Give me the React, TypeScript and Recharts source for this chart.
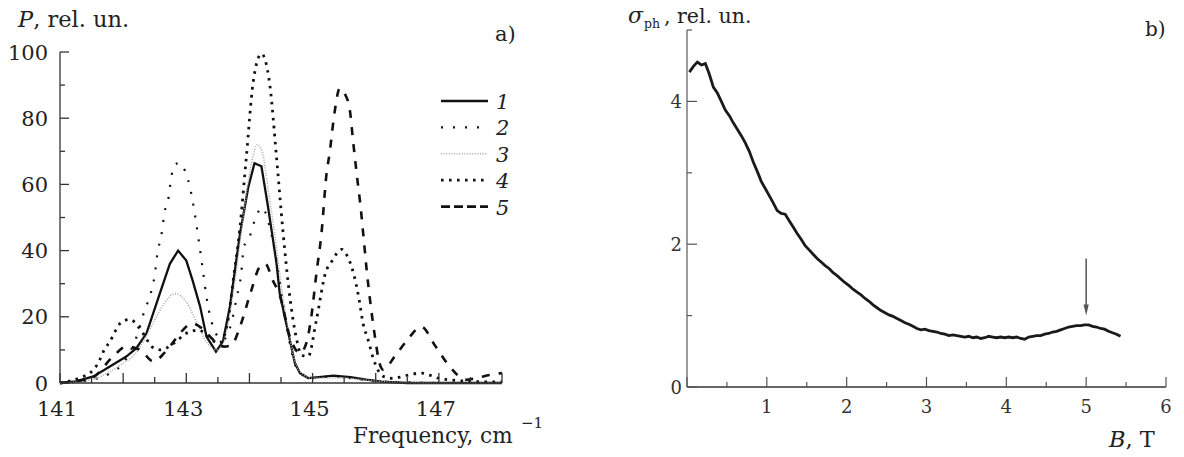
import React from 'react';
import { LineChart, Line, XAxis, YAxis, Legend, ReferenceLine, ReferenceDot } from 'recharts';

const FONT = '"DejaVu Serif", "Liberation Serif", serif';

// ---------- Panel a) data ----------
const f1 = [141, 141.25, 141.53, 141.79, 142.05, 142.21, 142.37, 142.58, 142.74, 142.87, 143.0, 143.1, 143.22, 143.32, 143.47, 143.58, 143.69, 143.85, 143.98, 144.08, 144.19, 144.28, 144.36, 144.43, 144.48, 144.56, 144.64, 144.72, 144.8, 144.93, 145.1, 145.33, 145.6, 145.85, 146.1, 146.5, 147, 147.5, 148];
const p1 = [0, 0.5, 2, 5, 8, 10.5, 15, 27, 36, 40, 37, 31, 23, 14, 9.5, 12.5, 23, 45, 59, 66.4, 65.5, 55, 45, 36, 27, 20, 13, 6, 3, 1.5, 1.8, 2.2, 1.8, 1, 0.4, 0, 0, 0, 0];

const f2 = [141, 141.5, 141.8, 142.0, 142.15, 142.25, 142.34, 142.42, 142.5, 142.55, 142.6, 142.66, 142.71, 142.77, 142.82, 142.9, 143.0, 143.06, 143.1, 143.16, 143.22, 143.27, 143.32, 143.4, 143.5, 143.58, 143.66, 143.72, 143.8, 143.87, 143.91, 144.0, 144.1, 144.2, 144.3, 144.4, 144.5, 144.6, 144.7, 144.8, 145.0, 145.3, 145.6, 146.0, 146.5, 147.0, 148];
const p2 = [0, 1, 3, 6, 11, 16, 22, 26, 32.6, 40, 44, 52, 55, 63, 66, 66.5, 63, 59, 55, 48, 40, 33, 26, 18.5, 14, 13, 15, 18.5, 26, 33, 41, 44, 50, 53, 48.7, 40, 28, 16, 7, 3, 1.5, 2, 1.5, 0.5, 0.2, 0, 0];

const f3 = [141, 141.5, 141.8, 142.0, 142.2, 142.35, 142.5, 142.65, 142.82, 143.0, 143.15, 143.3, 143.48, 143.6, 143.75, 143.9, 144.05, 144.12, 144.2, 144.3, 144.4, 144.5, 144.6, 144.7, 144.85, 145.0, 145.4, 145.8, 146.2, 147, 148];
const p3 = [0, 1, 3.5, 6, 9, 13.6, 19, 24, 27, 24.5, 19, 13, 10, 13, 28, 50, 68, 72, 70, 58, 45, 30, 18, 8, 2.5, 1.5, 1.5, 1, 0.3, 0, 0];

const f4 = [141, 141.3, 141.53, 141.63, 141.7, 141.79, 141.87, 141.98, 142.11, 142.24, 142.35, 142.45, 142.6, 142.8, 143.0, 143.2, 143.4, 143.52, 143.65, 143.75, 143.85, 143.95, 144.06, 144.19, 144.32, 144.43, 144.53, 144.64, 144.75, 144.82, 144.93, 145.06, 145.21, 145.3, 145.46, 145.54, 145.65, 145.73, 145.8, 145.88, 145.96, 146.12, 146.27, 146.43, 146.56, 146.72, 146.85, 147.0, 147.14, 147.5, 148];
const p4 = [0, 1.5, 4, 7, 10, 12.5, 15.5, 18.5, 19.2, 17, 14, 11, 10, 12, 15, 16, 13, 12, 18, 32, 47, 68, 91, 99.5, 90.5, 68, 46, 26, 13, 8.5, 8, 19, 33.6, 36.6, 40.4, 38.7, 33, 26, 18, 13, 7.5, 2, 1.4, 2, 2.6, 3, 2.4, 1.4, 1, 0.5, 0.3];

const f5 = [141, 141.5, 141.84, 142.05, 142.27, 142.48, 142.65, 142.8, 142.9, 143.1, 143.25, 143.43, 143.6, 143.72, 143.85, 144.03, 144.16, 144.25, 144.37, 144.48, 144.64, 144.8, 144.9, 144.98, 145.06, 145.14, 145.22, 145.27, 145.35, 145.43, 145.52, 145.59, 145.64, 145.7, 145.75, 145.88, 145.98, 146.06, 146.12, 146.3, 146.5, 146.72, 146.95, 147.17, 147.43, 147.6, 147.8, 148];
const p5 = [0, 1.5, 8, 11, 10, 6.5, 9, 12.5, 15, 18, 16.5, 13, 11, 11.5, 17, 28, 35, 36, 31, 26.6, 14, 9, 12, 20, 33, 45, 63, 69.5, 82, 89, 87, 82.5, 73.4, 63, 55, 30, 15, 6, 4, 8, 13, 17, 11, 5, 1, 1.5, 2.4, 3];

const seriesNames = ['1', '2', '3', '4', '5'];
const xTicksA = [141, 141.5, 142, 142.5, 143, 143.5, 144, 144.5, 145, 145.5, 146, 146.5, 147, 147.5, 148];
const xLabelsA = [141, 143, 145, 147];
const yTicksA = [0, 10, 20, 30, 40, 50, 60, 70, 80, 90, 100];
const yLabelsA = [0, 20, 40, 60, 80, 100];

// ---------- Panel b) data ----------
const bField = [0.03, 0.08, 0.13, 0.18, 0.23, 0.28, 0.33, 0.38, 0.43, 0.48, 0.53, 0.58, 0.63, 0.68, 0.73, 0.78, 0.83, 0.88, 0.93, 0.98, 1.03, 1.08, 1.13, 1.18, 1.23, 1.28, 1.33, 1.38, 1.43, 1.48, 1.53, 1.58, 1.63, 1.68, 1.73, 1.78, 1.83, 1.88, 1.93, 1.98, 2.03, 2.08, 2.13, 2.18, 2.23, 2.28, 2.33, 2.38, 2.43, 2.48, 2.53, 2.58, 2.63, 2.68, 2.73, 2.78, 2.83, 2.88, 2.93, 2.98, 3.03, 3.08, 3.13, 3.18, 3.23, 3.28, 3.33, 3.38, 3.43, 3.48, 3.53, 3.58, 3.63, 3.68, 3.73, 3.78, 3.83, 3.88, 3.93, 3.98, 4.03, 4.08, 4.13, 4.18, 4.23, 4.28, 4.33, 4.38, 4.43, 4.48, 4.53, 4.58, 4.63, 4.68, 4.73, 4.78, 4.83, 4.88, 4.93, 4.98, 5.03, 5.08, 5.13, 5.18, 5.23, 5.28, 5.33, 5.38, 5.43];
const sigma = [4.41, 4.49, 4.55, 4.51, 4.53, 4.38, 4.2, 4.12, 4.0, 3.88, 3.8, 3.7, 3.61, 3.52, 3.42, 3.3, 3.15, 3.02, 2.88, 2.78, 2.68, 2.58, 2.47, 2.43, 2.42, 2.33, 2.24, 2.15, 2.07, 1.98, 1.92, 1.86, 1.8, 1.75, 1.7, 1.66, 1.6, 1.56, 1.51, 1.46, 1.42, 1.37, 1.33, 1.29, 1.24, 1.2, 1.15, 1.11, 1.07, 1.04, 1.01, 0.99, 0.96, 0.93, 0.9, 0.88, 0.85, 0.82, 0.8, 0.81, 0.79, 0.78, 0.77, 0.75, 0.74, 0.72, 0.73, 0.72, 0.71, 0.7, 0.71, 0.69, 0.7, 0.68, 0.69, 0.71, 0.7, 0.69, 0.7, 0.69, 0.7, 0.69, 0.7, 0.68, 0.67, 0.7, 0.71, 0.72, 0.72, 0.74, 0.75, 0.77, 0.78, 0.8, 0.82, 0.84, 0.85, 0.86, 0.86, 0.87, 0.87, 0.85, 0.84, 0.82, 0.81, 0.78, 0.76, 0.74, 0.71];
const xTicksB = [0, 0.5, 1, 1.5, 2, 2.5, 3, 3.5, 4, 4.5, 5, 5.5, 6];
const xLabelsB = [1, 2, 3, 4, 5, 6];
const yTicksB = [0, 1, 2, 3, 4, 5];
const yLabelsB = [0, 2, 4];
const arrowAt = 5;
const arrowFrom = 1.8;
const arrowTo = 1.0;

const zip = (f: number[], p: number[]) => f.map((x, i) => ({ f: x, p: p[i] }));
const seriesData = [zip(f1, p1), zip(f2, p2), zip(f3, p3), zip(f4, p4), zip(f5, p5)];
const sigmaData = bField.map((b, i) => ({ b, s: sigma[i] }));

const styles = [
  { stroke: '#111', strokeWidth: 2.3, dash: undefined as string | undefined, legendDash: undefined as string | undefined, type: 'linear' },
  { stroke: '#111', strokeWidth: 2.2, dash: '2 10', legendDash: '2 10', type: 'monotoneX' },
  { stroke: '#aaa', strokeWidth: 1.6, dash: '1 1.6', legendDash: '1 1.6', type: 'monotoneX' },
  { stroke: '#111', strokeWidth: 2.8, dash: '2.6 5.4', legendDash: '2.6 5.4', type: 'monotoneX' },
  { stroke: '#111', strokeWidth: 2.6, dash: '8 9', legendDash: '9 4', type: 'monotoneX' },
];

const txt = (size: number, extra: React.CSSProperties = {}): React.CSSProperties => ({ fontFamily: FONT, fontSize: size, ...extra });

const XTickA = (props: any) => {
  const { x, y, payload } = props;
  const v = payload.value;
  const major = Number.isInteger(v);
  return (
    <g>
      <line x1={x} x2={x} y1={y} y2={y - (major ? 10 : 6)} stroke="#333" strokeWidth={1.3} />
      {xLabelsA.includes(v) && (
        <text x={x - 3} y={y + 33} textAnchor="middle" style={txt(21)} fill="#222">{v}</text>
      )}
    </g>
  );
};

const YTickA = (props: any) => {
  const { x, y, payload } = props;
  const v = payload.value;
  const major = yLabelsA.includes(v);
  return (
    <g>
      <line x1={x} x2={x + (major ? 9 : 5)} y1={y} y2={y} stroke="#333" strokeWidth={1.3} />
      {major && (
        <text x={x - 12} y={y + 7.5} textAnchor="end" style={txt(21)} fill="#222">{v}</text>
      )}
    </g>
  );
};

const XTickB = (props: any) => {
  const { x, y, payload } = props;
  const v = payload.value;
  const major = Number.isInteger(v);
  return (
    <g>
      <line x1={x} x2={x} y1={y} y2={y - (major ? 10 : 5)} stroke="#555" strokeWidth={1.2} />
      {xLabelsB.includes(v) && (
        <text x={x} y={y + 26} textAnchor="middle" style={txt(18)} fill="#333">{v}</text>
      )}
    </g>
  );
};

const YTickB = (props: any) => {
  const { x, y, payload } = props;
  const v = payload.value;
  const major = yLabelsB.includes(v);
  return (
    <g>
      <line x1={x} x2={x + (major ? 10 : 5)} y1={y} y2={y} stroke="#555" strokeWidth={1.2} />
      {major && (
        <text x={x - 5} y={y + 6.5} textAnchor="end" style={txt(18)} fill="#333">{v}</text>
      )}
    </g>
  );
};

const LegendA = () => (
  <svg width={90} height={140} style={{ display: 'block' }}>
    {seriesNames.map((n, i) => {
      const y = 13 + i * 26.4;
      const s = styles[i];
      return (
        <g key={n}>
          <line x1={1} x2={48} y1={y} y2={y} stroke={s.stroke} strokeWidth={s.strokeWidth} strokeDasharray={s.legendDash} />
          <text x={56} y={y + 8} style={txt(21, { fontStyle: 'italic' })} fill="#222">{n}</text>
        </g>
      );
    })}
  </svg>
);

const Arrowhead = (props: any) => {
  const { cx, cy } = props;
  return <path d={`M${cx - 2.6},${cy - 11} L${cx + 2.6},${cy - 11} L${cx},${cy} Z`} fill="#555" />;
};

export default function App() {
  return (
    <div style={{ position: 'absolute', left: 0, top: 0, width: 1184, height: 457, background: '#fff', overflow: 'hidden', fontFamily: FONT }}>
      <div style={{ position: 'absolute', left: 0, top: 0 }}>
        <LineChart width={580} height={457} margin={{ top: 52, right: 78, bottom: 73, left: 59 }}>
          <XAxis type="number" dataKey="f" domain={[141, 148]} ticks={xTicksA} interval={0} allowDuplicatedCategory={false}
            height={1} tickSize={0} tickMargin={0} tickLine={false} tick={<XTickA />} axisLine={{ stroke: '#333', strokeWidth: 1.5 }} />
          <YAxis type="number" domain={[0, 100]} ticks={yTicksA} interval={0} width={1} tickSize={0} tickMargin={0}
            tickLine={false} tick={<YTickA />} axisLine={{ stroke: '#444', strokeWidth: 1.4 }} />
          {seriesData.map((d, i) => (
            <Line key={seriesNames[i]} name={seriesNames[i]} data={d} dataKey="p" type={styles[i].type as any}
              stroke={styles[i].stroke} strokeWidth={styles[i].strokeWidth} strokeDasharray={styles[i].dash}
              strokeLinecap="butt" dot={false} activeDot={false} isAnimationActive={false} />
          ))}
          <Legend layout="vertical" align="center" verticalAlign="middle" content={<LegendA />}
            wrapperStyle={{ position: 'absolute', left: 440, top: 88, width: 90, height: 140 }} />
        </LineChart>
      </div>
      <div style={{ position: 'absolute', left: 580, top: 0 }}>
        <LineChart width={604} height={457} margin={{ top: 30, right: 18, bottom: 69, left: 106 }}>
          <XAxis type="number" dataKey="b" domain={[0, 6]} ticks={xTicksB} interval={0} height={1} tickSize={0}
            tickMargin={0} tickLine={false} tick={<XTickB />} axisLine={{ stroke: '#333', strokeWidth: 1.5 }} />
          <YAxis type="number" domain={[0, 5]} ticks={yTicksB} interval={0} width={1} tickSize={0} tickMargin={0}
            tickLine={false} tick={<YTickB />} axisLine={{ stroke: '#666', strokeWidth: 1.3 }} />
          <Line data={sigmaData} dataKey="s" type="linear" stroke="#1a1a1a" strokeWidth={2.8} dot={false}
            activeDot={false} isAnimationActive={false} />
          <ReferenceLine segment={[{ x: arrowAt, y: arrowFrom }, { x: arrowAt, y: arrowTo + 0.1 }]} stroke="#555" strokeWidth={1.5} />
          <ReferenceDot x={arrowAt} y={arrowTo} r={3} shape={<Arrowhead />} />
        </LineChart>
      </div>
      <svg width={1184} height={457} style={{ position: 'absolute', left: 0, top: 0, pointerEvents: 'none' }}>
        <g fill="#222">
          <text x={18} y={27} style={txt(22.5)}>
            <tspan style={{ fontStyle: 'italic' }}>P</tspan>, rel. un.
          </text>
          <text x={495} y={41} style={txt(21)}>a)</text>
          <text x={353} y={443} style={txt(21.5)}>Frequency, cm</text>
          <text x={521} y={428} style={txt(15)}>−1</text>
          <text x={628} y={23} style={txt(22, { fontStyle: 'italic' })}>σ</text>
          <text x={644} y={28} style={txt(12.5)}>ph</text>
          <text x={664} y={23} style={txt(20.5)}>, rel. un.</text>
          <text x={1145} y={36} style={txt(20)}>b)</text>
          <text x={1109} y={447} style={txt(22.5)}>
            <tspan style={{ fontStyle: 'italic' }}>B</tspan>, T
          </text>
        </g>
      </svg>
    </div>
  );
}
